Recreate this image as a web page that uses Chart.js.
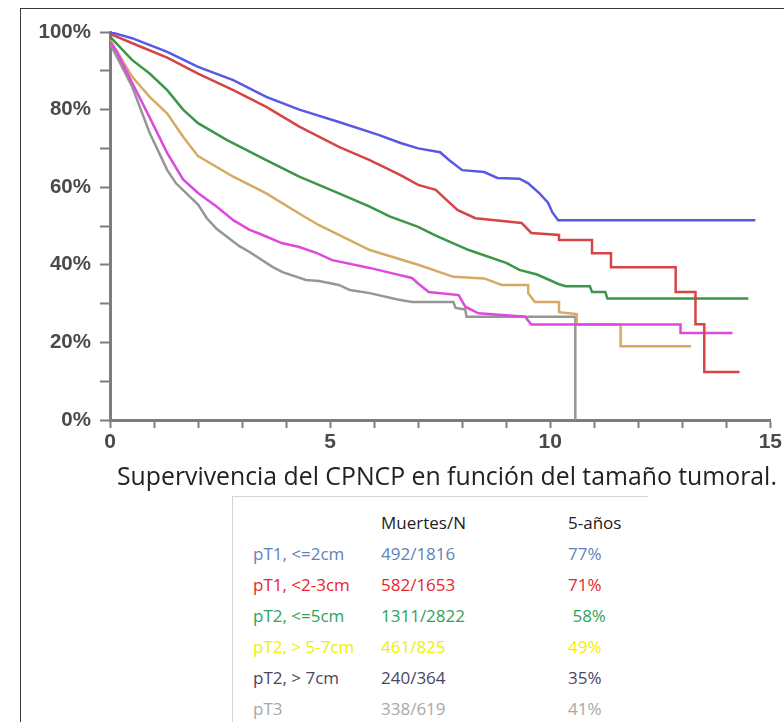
<!DOCTYPE html>
<html>
<head>
<meta charset="utf-8">
<script src="https://cdn.jsdelivr.net/npm/chart.js@4.4.1/dist/chart.umd.min.js"></script>
<style>
  html, body { margin: 0; padding: 0; background: #fff; }
  body { width: 784px; height: 722px; overflow: hidden; position: relative; }
  #frame { position: absolute; left: 20px; top: 8px; width: 900px; height: 900px;
           border-left: 1.5px solid #3a3a3a; border-top: 1.5px solid #3a3a3a; }
  #chartBox { position: absolute; left: 0; top: 0; width: 784px; height: 460px; }
  #title { position: absolute; left: 117px; top: 458px; white-space: nowrap;
           font-family: "Open Sans", sans-serif; font-size: 24.8px; color: #222; }
  #tbl { position: absolute; left: 232px; top: 496px; width: 415px; height: 240px;
         border-left: 1px solid #d4d4d4; border-top: 1px solid #d4d4d4; background: #fff; }
  #tbl div.row { position: absolute; left: 0; height: 31px; line-height: 31px;
                 font-family: "Open Sans", sans-serif; font-size: 17px; white-space: pre; }
  #tbl span { position: absolute; top: 0; }
</style>
</head>
<body>
<div id="frame"></div>
<div id="chartBox"><canvas id="kmChart" width="784" height="460"></canvas></div>
<div id="title">Supervivencia del CPNCP en función del tamaño tumoral.</div>
<div id="tbl"></div>
<script>
// survival curves: [years, % surviving]
const pT1small = [[0,100],[0.5,98.4],[1.3,94.9],[2,91],[2.8,87.6],[3.55,83.3],[4.3,80],[5.2,76.8],[6.1,73.5],
  [6.6,71.4],[7.0,70],[7.5,69],[7.7,67],[8.0,64.4],[8.5,63.9],[8.8,62.4],[9.3,62.2],[9.5,61],[9.75,58.5],
  [9.95,56],[10.05,53.5],[10.18,51.5],[14.66,51.5]];
const pT1mid = [[0,99.5],[0.7,96.2],[1.3,93.4],[2,89.3],[2.8,85],[3.55,80.7],[4.3,75.6],[5.2,70.4],[5.9,67],
  [6.6,63.1],[7.0,60.6],[7.4,59.3],[7.6,57.2],[7.9,54.1],[8.3,52],[8.75,51.5],[9.35,50.8],[9.57,48.2],
  [10.2,47.7],[10.2,46.4],[10.95,46.4],[10.95,43],[11.38,43],[11.38,39.4],[12.85,39.4],[12.85,33],
  [13.3,33],[13.3,24.7],[13.5,24.7],[13.5,12.4],[14.3,12.4]];
const pT2small = [[0,98.8],[0.5,92.8],[0.9,89.3],[1.3,85],[1.66,80],[2.0,76.5],[2.65,72.2],[3.55,67],[4.3,62.7],
  [5.2,58.4],[5.9,55],[6.35,52.5],[7.0,49.8],[7.4,47.5],[8.15,43.8],[9.0,40.5],[9.3,38.7],[9.7,37.5],
  [10.2,35],[10.35,34.5],[10.9,34.5],[10.95,33],[11.25,33],[11.3,31.3],[14.5,31.3]];
const pT2mid = [[0,98],[0.5,88.5],[0.9,83.3],[1.3,79],[1.66,73],[2.0,68],[2.8,62.7],[3.55,58.4],[4.4,52.5],[4.75,50.2],
  [5.9,43.8],[7.0,40],[7.8,36.9],[8.5,36.5],[8.9,34.8],[9.5,34.8],[9.5,32.7],[9.65,30.4],[10.2,30.4],
  [10.2,27.8],[10.6,27.3],[10.6,24.6],[11.6,24.6],[11.6,19],[13.2,19]];
const pT2large = [[0,97.5],[0.15,95],[0.5,87],[0.9,78],[1.3,68.8],[1.66,62],[2.0,58.5],[2.42,55],[2.8,51.5],
  [3.17,49],[3.4,48],[3.9,45.6],[4.3,44.6],[4.7,43],[5.05,41.2],[5.9,39.2],[6.56,37.4],[6.86,36.6],
  [7.0,35.2],[7.24,33],[7.92,32.2],[8.07,29.2],[8.37,27.5],[9.43,26.6],[9.57,24.6],[12.96,24.6],
  [12.96,22.4],[14.14,22.4]];
const pT3 = [[0,97],[0.5,86],[0.9,74],[1.3,64.4],[1.5,61],[2.0,55.5],[2.2,52],[2.42,49.3],[2.94,44.8],
  [3.17,43.3],[3.7,39.4],[3.92,38.1],[4.45,36.1],[4.75,35.8],[5.2,34.8],[5.45,33.5],[5.9,32.7],[6.56,31],
  [6.86,30.4],[7.8,30.4],[7.85,28.9],[8.07,28.5],[8.1,26.6],[10.57,26.6],[10.57,0]];

// table under the chart
const groups = ['pT1, <=2cm', 'pT1, <2-3cm', 'pT2, <=5cm', 'pT2, > 5-7cm', 'pT2, > 7cm', 'pT3'];
const deathsN = ['492/1816', '582/1653', '1311/2822', '461/825', '240/364', '338/619'];
const fiveYear = ['77%', '71%', ' 58%', '49%', '35%', '41%'];
const rowColors = ['#5f82b9', '#e8262a', '#2ea35c', '#f0f000', '#4a4660', '#a8a8a8'];

const tbl = document.getElementById('tbl');
function addRow(top, color, cells) {
    const row = document.createElement('div');
    row.className = 'row';
    row.style.top = top + 'px';
    row.style.color = color;
    const xs = [20, 148, 335];
    cells.forEach((txt, i) => {
        const s = document.createElement('span');
        s.style.left = xs[i] + 'px';
        s.textContent = txt;
        row.appendChild(s);
    });
    tbl.appendChild(row);
}
addRow(10, '#222', ['', 'Muertes/N', '5-años']);
groups.forEach((g, i) => addRow(41 + i * 31, rowColors[i], [g, deathsN[i], fiveYear[i]]));

function toPoints(arr) {
    return arr.map(p => ({ x: p[0], y: p[1] }));
}

// first dataset is drawn on top
const series = [
    { data: pT1small, color: 'rgb(88,88,228)' },
    { data: pT1mid, color: 'rgb(214,68,68)' },
    { data: pT2small, color: 'rgb(58,150,72)' },
    { data: pT2large, color: 'rgb(222,72,222)' },
    { data: pT2mid, color: 'rgb(214,170,100)' },
    { data: pT3, color: 'rgb(150,150,150)' }
];

const axisGray = 'rgb(125,125,125)';
const ctx = document.getElementById('kmChart').getContext('2d');
new Chart(ctx, {
    type: 'line',
    data: {
        datasets: series.map(s => ({
            data: toPoints(s.data),
            borderColor: s.color,
            borderWidth: 2.5,
            pointRadius: 0,
            tension: 0,
            fill: false
        }))
    },
    options: {
        responsive: false,
        animation: false,
        devicePixelRatio: 1,
        layout: { padding: { top: 32, right: 11, left: 0, bottom: 0 }, autoPadding: false },
        plugins: { legend: { display: false }, tooltip: { enabled: false } },
        scales: {
            x: {
                type: 'linear',
                min: 0,
                max: 15,
                afterFit: scale => { scale.height = 40; },
                border: { color: axisGray, width: 3 },
                grid: { drawOnChartArea: false, tickLength: 8, tickColor: axisGray, tickWidth: 2 },
                ticks: {
                    stepSize: 1,
                    autoSkip: false,
                    maxRotation: 0,
                    padding: 2,
                    color: '#4a4a4a',
                    font: { family: 'Liberation Sans', size: 21, weight: 'bold' },
                    callback: v => (v % 5 === 0 ? v : '')
                }
            },
            y: {
                min: 0,
                max: 100,
                afterFit: scale => { scale.width = 110; },
                border: { color: axisGray, width: 3 },
                grid: { drawOnChartArea: false, tickLength: 10, tickColor: axisGray, tickWidth: 2 },
                ticks: {
                    stepSize: 10,
                    autoSkip: false,
                    padding: 9,
                    color: '#4a4a4a',
                    font: { family: 'Liberation Sans', size: 20.5, weight: 'bold' },
                    callback: v => (v % 20 === 0 ? v + '%' : '')
                }
            }
        }
    }
});
</script>
</body>
</html>
